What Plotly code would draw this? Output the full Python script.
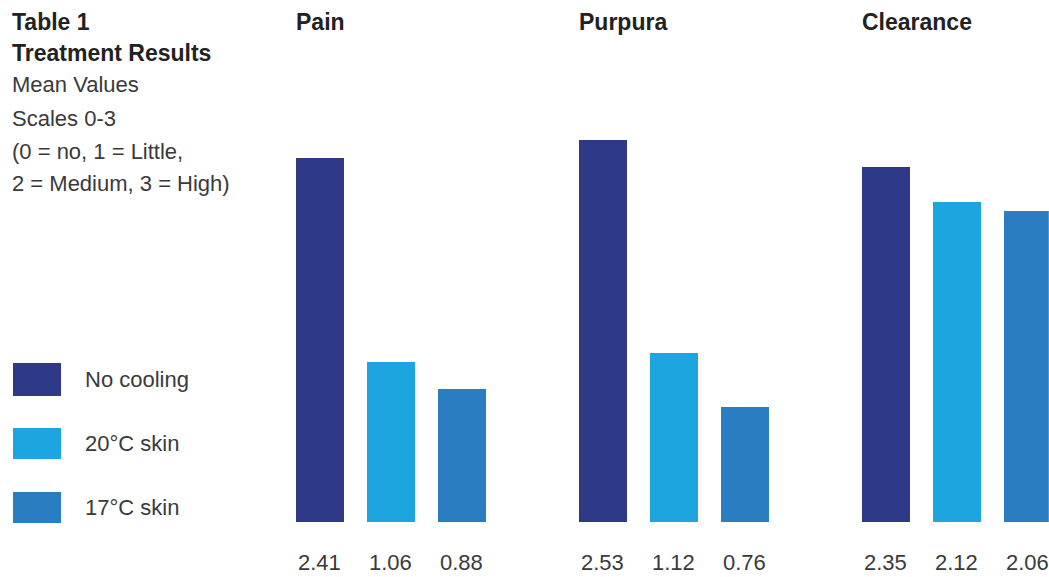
import plotly.graph_objects as go
from plotly.subplots import make_subplots

panels = ["Pain", "Purpura", "Clearance"]
series = ["No cooling", "20°C skin", "17°C skin"]
values = {
    "Pain": [2.41, 1.06, 0.88],
    "Purpura": [2.53, 1.12, 0.76],
    "Clearance": [2.35, 2.12, 2.06],
}
colors = ["#2e3a88", "#1ca5df", "#2b7dc2"]
title_lines = ["<b>Table 1</b>", "<b>Treatment Results</b>", "Mean Values", "Scales 0-3",
               "(0 = no, 1 = Little,", "2 = Medium, 3 = High)"]

W, H = 1049, 577
FONT = "Liberation Sans Narrow, Arial Narrow, Liberation Sans, sans-serif"
TXT = "#3a3a3a"

fig = make_subplots(rows=1, cols=3)

# pixel layout
centers0 = [319, 602, 885]
step = 71
bottom_px = 522
unit_px = 151
yr = 3.45
y0 = (H - bottom_px) / H
y1 = (H - bottom_px + yr * unit_px) / H

for i, p in enumerate(panels):
    xs = [0, 1, 2]
    fig.add_trace(go.Bar(x=xs, y=values[p], marker=dict(color=colors, line=dict(width=0)),
                         width=48 / step, showlegend=False, hoverinfo="skip"), row=1, col=i + 1)
    left = centers0[i] - step * 0.5
    rmax = 2.5 if i < 2 else (W - 0.2 - centers0[i]) / step
    right = centers0[i] + step * rmax
    ax = "xaxis" if i == 0 else f"xaxis{i+1}"
    ay = "yaxis" if i == 0 else f"yaxis{i+1}"
    fig.layout[ax].update(domain=[left / W, min(right / W, 1.0)], range=[-0.5, rmax],
                          visible=False, fixedrange=True)
    fig.layout[ay].update(domain=[y0, y1], range=[0, yr], visible=False, fixedrange=True)
    xref = "x" if i == 0 else f"x{i+1}"
    for j, v in enumerate(values[p]):
        fig.add_annotation(x=j, y=0, xref=xref, yref="paper", text=f"{v:.2f}",
                           showarrow=False, xanchor="center", yanchor="bottom",
                           font=dict(family=FONT, size=22, color=TXT))
    fig.add_annotation(x=(centers0[i] - 25) / W, y=(H - 22) / H, xref="paper", yref="paper",
                       text=f"<b>{p}</b>", showarrow=False, xanchor="left", yanchor="middle",
                       font=dict(family=FONT, size=23, color="#222"))

# left title block
line_y = [22, 53, 85, 118, 151, 184]
for t, yy in zip(title_lines, line_y):
    bold = "<b>" in t
    fig.add_annotation(x=10 / W, y=(H - yy) / H, xref="paper", yref="paper", text=t,
                       showarrow=False, xanchor="left", yanchor="middle",
                       font=dict(family=FONT, size=23 if bold else 22,
                                 color="#222" if bold else TXT))

# legend
leg_y = [(363, 396), (428, 459), (492, 523)]
for s, c, (a, b) in zip(series, colors, leg_y):
    fig.add_shape(type="rect", xref="paper", yref="paper", x0=13 / W, x1=61 / W,
                  y0=(H - b) / H, y1=(H - a) / H, fillcolor=c, line=dict(width=0))
    fig.add_annotation(x=83 / W, y=(H - (a + b) / 2) / H, xref="paper", yref="paper", text=s,
                       showarrow=False, xanchor="left", yanchor="middle",
                       font=dict(family=FONT, size=22, color=TXT))

fig.update_layout(width=W, height=H, margin=dict(l=0, r=0, t=0, b=0),
                  paper_bgcolor="white", plot_bgcolor="white", bargap=0)
fig.write_html("out.html", config={"displayModeBar": False},
               post_script="document.body.style.margin='0px';")
